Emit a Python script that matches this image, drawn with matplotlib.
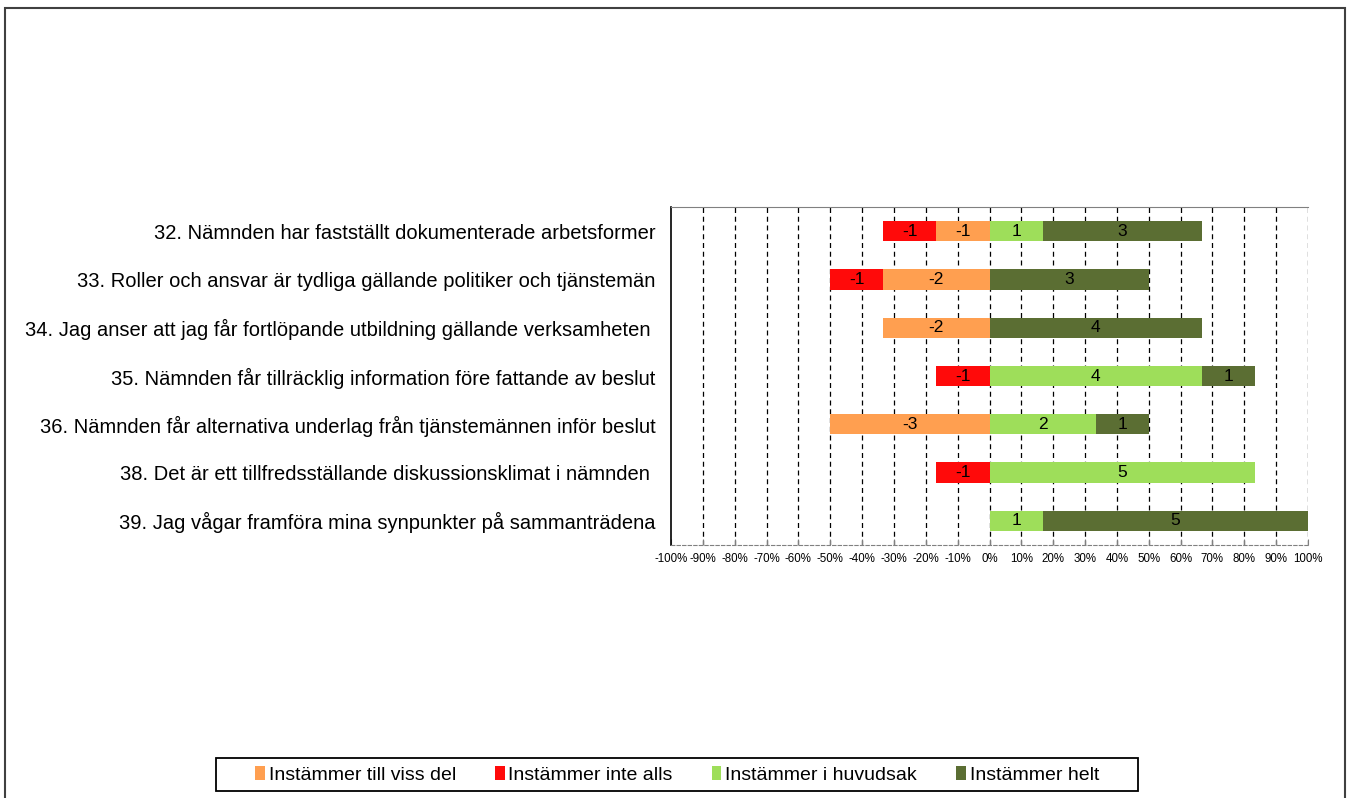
import matplotlib
matplotlib.use("Agg")
import matplotlib.pyplot as plt
from matplotlib.patches import Rectangle
import numpy as np

plt.rcParams['font.family'] = ['Liberation Sans', 'DejaVu Sans']

questions = [
    "32. Nämnden har fastställt dokumenterade arbetsformer",
    "33. Roller och ansvar är tydliga gällande politiker och tjänstemän",
    "34. Jag anser att jag får fortlöpande utbildning gällande verksamheten ",
    "35. Nämnden får tillräcklig information före fattande av beslut",
    "36. Nämnden får alternativa underlag från tjänstemännen inför beslut",
    "38. Det är ett tillfredsställande diskussionsklimat i nämnden ",
    "39. Jag vågar framföra mina synpunkter på sammanträdena",
]
# counts of respondents per category
viss_del = [1, 2, 2, 0, 3, 0, 0]      # Instämmer till viss del (negative side)
inte_alls = [1, 1, 0, 1, 0, 1, 0]     # Instämmer inte alls (negative side)
huvudsak = [1, 0, 0, 4, 2, 5, 1]      # Instämmer i huvudsak
helt = [3, 3, 4, 1, 1, 0, 5]          # Instämmer helt
n_resp = 6

series_names = ["Instämmer till viss del", "Instämmer inte alls",
                "Instämmer i huvudsak", "Instämmer helt"]
colors = ["#FF9F50", "#FF0A0A", "#9EDE5A", "#5B6E33"]
xticks = list(range(-100, 101, 10))

fig = plt.figure(figsize=(13.53, 7.98), dpi=100)
ax = fig.add_axes([671/1353, 1-545/798, (1308-671)/1353, (545-207)/798])

y = np.arange(len(questions))
h = 0.42
pct = lambda v: np.array(v) / n_resp * 100

vd = pct(viss_del); ia = pct(inte_alls); hu = pct(huvudsak); he = pct(helt)

bars = []
bars.append(ax.barh(y, -vd, left=0, height=h, color=colors[0], label=series_names[0], zorder=3))
bars.append(ax.barh(y, -ia, left=-vd, height=h, color=colors[1], label=series_names[1], zorder=3))
bars.append(ax.barh(y, hu, left=0, height=h, color=colors[2], label=series_names[2], zorder=3))
bars.append(ax.barh(y, he, left=hu, height=h, color=colors[3], label=series_names[3], zorder=3))

counts = [viss_del, inte_alls, huvudsak, helt]
signs = [-1, -1, 1, 1]
for bc, cnt, s in zip(bars, counts, signs):
    for rect, c in zip(bc, cnt):
        if c == 0:
            continue
        cx = rect.get_x() + rect.get_width() / 2
        cy = rect.get_y() + rect.get_height() / 2
        ax.text(cx, cy, f"{s*c}", ha='center', va='center', fontsize=12.5,
                color='black', zorder=4)

ax.set_xlim(-100, 100)
ax.set_ylim(6.5, -0.5)
ax.set_xticks(xticks)
ax.set_xticklabels([f"{t}%" for t in xticks], fontsize=8.3)
ax.set_yticks(y)
ax.set_yticklabels(questions, fontsize=14.5)
ax.tick_params(axis='y', length=0, pad=11)
ax.tick_params(axis='x', length=4, direction='in', pad=6, color='#808080')
for t in xticks[1:]:
    ax.axvline(t, color='black', linestyle=(0, (4, 3)), linewidth=0.9, zorder=1)

ax.spines['left'].set_color('black')
ax.spines['left'].set_linewidth(1.2)
ax.spines['top'].set_color('#808080')
ax.spines['right'].set_visible(False)
ax.spines['bottom'].set_color('#808080')
ax.spines['bottom'].set_linestyle((0, (3, 2)))

# legend box
fig.add_artist(Rectangle((216/1353, 1-791/798), (1138-216)/1353, (791-758)/798,
                         transform=fig.transFigure, fill=False,
                         edgecolor='black', linewidth=1.3))
leg = fig.legend(handles=bars, labels=series_names, loc='center',
                 bbox_to_anchor=((216+1138)/2/1353, 1-775/798), ncol=4,
                 fontsize=14, frameon=False, handlelength=0.5,
                 handleheight=0.7, handletextpad=0.2, columnspacing=2.0,
                 borderpad=0.3)

fig.add_artist(Rectangle((5/1353, -0.02), (1345-5)/1353, 1.02-8/798,
                         transform=fig.transFigure, fill=False,
                         edgecolor='#404040', linewidth=1.5))

fig.savefig("out.png", dpi=100)
